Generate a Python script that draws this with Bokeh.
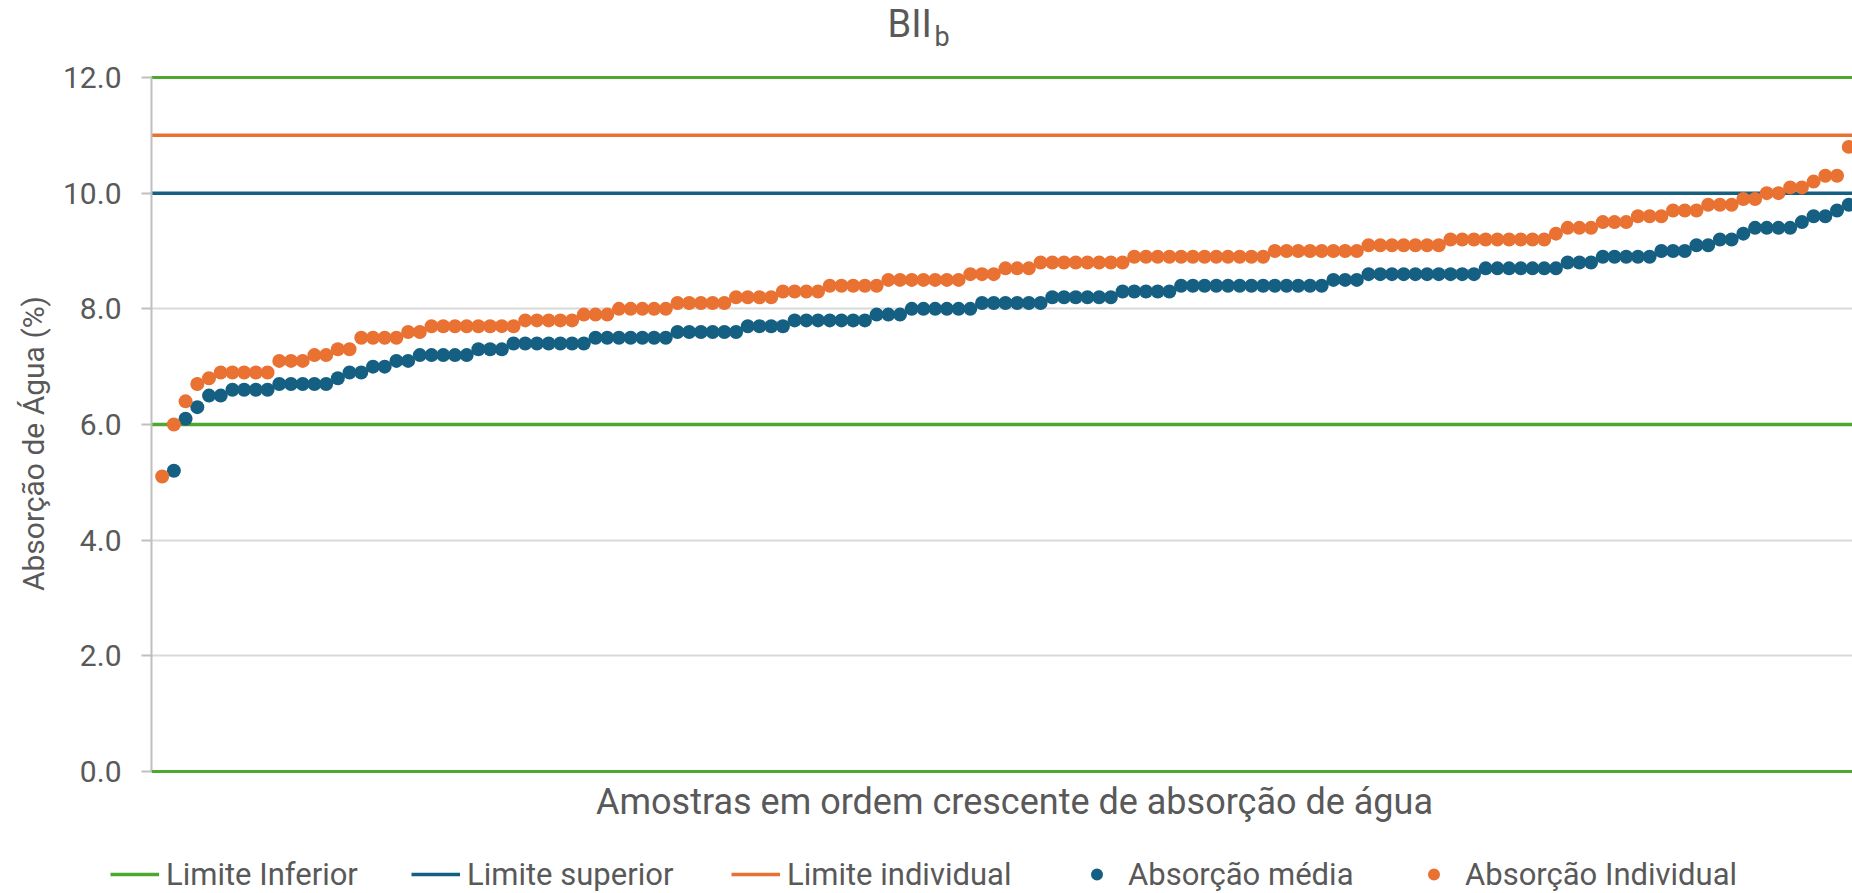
import math
from bokeh.plotting import figure
from bokeh.layouts import column, row
from bokeh.models import Range1d, FixedTicker, PrintfTickFormatter, LinearAxis, Label, Legend, LegendItem, Span
from bokeh.embed import file_html
from bokeh.resources import INLINE

# ---------------- data ----------------
titulo = "BII"
titulo_sub = "b"
eixo_y_titulo = "Absorção de Água (%)"
eixo_x_titulo = "Amostras em ordem crescente de absorção de água"
y_ticks = [0, 2, 4, 6, 8, 10, 12]

limite_inferior = 6.0
limite_superior = 10.0
limite_individual = 11.0

absorcao_individual = [
    5.1, 6.0, 6.4, 6.7, 6.8, 6.9, 6.9, 6.9, 6.9, 6.9,
    7.1, 7.1, 7.1, 7.2, 7.2, 7.3, 7.3, 7.5, 7.5, 7.5,
    7.5, 7.6, 7.6, 7.7, 7.7, 7.7, 7.7, 7.7, 7.7, 7.7,
    7.7, 7.8, 7.8, 7.8, 7.8, 7.8, 7.9, 7.9, 7.9, 8.0,
    8.0, 8.0, 8.0, 8.0, 8.1, 8.1, 8.1, 8.1, 8.1, 8.2,
    8.2, 8.2, 8.2, 8.3, 8.3, 8.3, 8.3, 8.4, 8.4, 8.4,
    8.4, 8.4, 8.5, 8.5, 8.5, 8.5, 8.5, 8.5, 8.5, 8.6,
    8.6, 8.6, 8.7, 8.7, 8.7, 8.8, 8.8, 8.8, 8.8, 8.8,
    8.8, 8.8, 8.8, 8.9, 8.9, 8.9, 8.9, 8.9, 8.9, 8.9,
    8.9, 8.9, 8.9, 8.9, 8.9, 9.0, 9.0, 9.0, 9.0, 9.0,
    9.0, 9.0, 9.0, 9.1, 9.1, 9.1, 9.1, 9.1, 9.1, 9.1,
    9.2, 9.2, 9.2, 9.2, 9.2, 9.2, 9.2, 9.2, 9.2, 9.3,
    9.4, 9.4, 9.4, 9.5, 9.5, 9.5, 9.6, 9.6, 9.6, 9.7,
    9.7, 9.7, 9.8, 9.8, 9.8, 9.9, 9.9, 10.0, 10.0, 10.1,
    10.1, 10.2, 10.3, 10.3, 10.8,
]

absorcao_media = [
    5.2, 6.1, 6.3, 6.5, 6.5, 6.6, 6.6, 6.6, 6.6, 6.7,
    6.7, 6.7, 6.7, 6.7, 6.8, 6.9, 6.9, 7.0, 7.0, 7.1,
    7.1, 7.2, 7.2, 7.2, 7.2, 7.2, 7.3, 7.3, 7.3, 7.4,
    7.4, 7.4, 7.4, 7.4, 7.4, 7.4, 7.5, 7.5, 7.5, 7.5,
    7.5, 7.5, 7.5, 7.6, 7.6, 7.6, 7.6, 7.6, 7.6, 7.7,
    7.7, 7.7, 7.7, 7.8, 7.8, 7.8, 7.8, 7.8, 7.8, 7.8,
    7.9, 7.9, 7.9, 8.0, 8.0, 8.0, 8.0, 8.0, 8.0, 8.1,
    8.1, 8.1, 8.1, 8.1, 8.1, 8.2, 8.2, 8.2, 8.2, 8.2,
    8.2, 8.3, 8.3, 8.3, 8.3, 8.3, 8.4, 8.4, 8.4, 8.4,
    8.4, 8.4, 8.4, 8.4, 8.4, 8.4, 8.4, 8.4, 8.4, 8.5,
    8.5, 8.5, 8.6, 8.6, 8.6, 8.6, 8.6, 8.6, 8.6, 8.6,
    8.6, 8.6, 8.7, 8.7, 8.7, 8.7, 8.7, 8.7, 8.7, 8.8,
    8.8, 8.8, 8.9, 8.9, 8.9, 8.9, 8.9, 9.0, 9.0, 9.0,
    9.1, 9.1, 9.2, 9.2, 9.3, 9.4, 9.4, 9.4, 9.4, 9.5,
    9.6, 9.6, 9.7, 9.8,
]

# sample ranks (the "média" series starts at the second sample)
amostra_individual = list(range(1, len(absorcao_individual) + 1))
amostra_media = list(range(2, len(absorcao_media) + 2))

# ---------------- style ----------------
VERDE = "#4EA72E"
AZUL = "#156082"
LARANJA = "#E97132"
TEXTO = "#595959"
GRADE = "#D9D9D9"
EIXO = "#BFBFBF"
FONTE = "Roboto"

W, H = 1852, 893
TOP_H = 61                 # title row: page y 0-61
MAIN_Y1 = 825              # main row: page y 61-825
BOT_H = H - MAIN_Y1        # legend row: page y 825-893
LEFT_W = 56                # y-title column width
FRAME_L, FRAME_T = 151, 77
Y0_PX = 771                # page y of value 0
X0, X1 = 0.09, 145.32
Y0, Y1 = 0, 12
MAIN_H = MAIN_Y1 - TOP_H
PX_PER_Y = (Y0_PX - FRAME_T) / (Y1 - Y0)
PX_PER_X = (W - FRAME_L) / (X1 - X0)
Y_BOTTOM = Y0 - (MAIN_Y1 - Y0_PX) / PX_PER_Y    # frame runs on below 0 to hold the x title


def strip(width, height):
    """Blank canvas with a full-size frame; data units = pixels from its bottom-left."""
    f = figure(width=width, height=height, output_backend="svg", toolbar_location=None,
               x_range=Range1d(0, width), y_range=Range1d(0, height),
               x_axis_type=None, y_axis_type=None,
               min_border_left=0, min_border_right=0, min_border_top=0, min_border_bottom=0)
    f.frame_align = False
    f.outline_line_color = None
    f.background_fill_color = "white"
    f.border_fill_color = "white"
    return f


# ---------------- title row ----------------
p_top = strip(W, TOP_H)
p_top.add_layout(Label(x=887, y=TOP_H - 23.5, text=titulo, text_font=FONTE, text_font_size="38px",
                       text_color=TEXTO, text_align="left", text_baseline="middle"))
p_top.add_layout(Label(x=934, y=TOP_H - 36, text=titulo_sub, text_font=FONTE, text_font_size="27px",
                       text_color=TEXTO, text_align="left", text_baseline="middle"))

# ---------------- y-title column ----------------
p_left = strip(LEFT_W, MAIN_H)
p_left.add_layout(Label(x=33, y=MAIN_Y1 - 443, text=eixo_y_titulo, text_font=FONTE,
                        text_font_size="30px", text_color=TEXTO, text_align="center",
                        text_baseline="middle", angle=math.pi / 2))

# ---------------- main plot ----------------
p = figure(width=W - LEFT_W, height=MAIN_H, output_backend="svg", toolbar_location=None,
           x_range=Range1d(X0, X1), y_range=Range1d(Y_BOTTOM, Y1),
           min_border_left=FRAME_L - LEFT_W, min_border_right=0,
           min_border_top=FRAME_T - TOP_H, min_border_bottom=0)
p.frame_align = False
p.outline_line_color = None
p.background_fill_color = "white"
p.border_fill_color = "white"
p.xgrid.visible = False
p.xaxis.visible = False

# top edge: green line
ax_top = LinearAxis(ticker=FixedTicker(ticks=[]), major_tick_out=0, major_tick_in=0,
                    minor_tick_line_color=None, major_label_text_font_size="0px",
                    major_label_standoff=0, axis_line_color=VERDE, axis_line_width=3)
p.add_layout(ax_top, "above")
# bottom edge (value 0): green line
p.add_layout(Span(location=Y0, dimension="width", line_color=VERDE, line_width=3))

p.yaxis.bounds = (Y0, Y1)
p.yaxis.ticker = FixedTicker(ticks=y_ticks)
p.yaxis.formatter = PrintfTickFormatter(format="%.1f")
p.yaxis.minor_tick_line_color = None
p.yaxis.major_tick_out = 10
p.yaxis.major_tick_in = 0
p.yaxis.major_tick_line_color = EIXO
p.yaxis.major_tick_line_width = 2
p.yaxis.axis_line_color = EIXO
p.yaxis.axis_line_width = 2
p.yaxis.major_label_standoff = 20
p.yaxis.major_label_text_font = FONTE
p.yaxis.major_label_text_font_size = "30px"
p.yaxis.major_label_text_color = TEXTO

p.ygrid.ticker = FixedTicker(ticks=y_ticks)
p.ygrid.grid_line_color = GRADE
p.ygrid.grid_line_width = 2

xs_lim = [X0, X1]
p.line(xs_lim, [limite_inferior, limite_inferior], line_color=VERDE, line_width=3.5)
p.line(xs_lim, [limite_superior, limite_superior], line_color=AZUL, line_width=3.5)
p.line(xs_lim, [limite_individual, limite_individual], line_color=LARANJA, line_width=3.5)

p.scatter(amostra_media, absorcao_media, size=14, fill_color=AZUL, line_color=None)
p.scatter(amostra_individual, absorcao_individual, size=14, fill_color=LARANJA, line_color=None)

# x title, placed under the value axis
p.add_layout(Label(x=X0 + (1014 - FRAME_L) / PX_PER_X, y=Y0 - (801 - Y0_PX) / PX_PER_Y,
                   text=eixo_x_titulo, text_font=FONTE, text_font_size="36px", text_color=TEXTO,
                   text_align="center", text_baseline="middle"))

# ---------------- legend row ----------------
p_bot = strip(W, BOT_H)
nan = float("nan")
g_inf = p_bot.line([nan, nan], [nan, nan], line_color=VERDE, line_width=3.5)
g_sup = p_bot.line([nan, nan], [nan, nan], line_color=AZUL, line_width=3.5)
g_lim = p_bot.line([nan, nan], [nan, nan], line_color=LARANJA, line_width=3.5)
g_med = p_bot.scatter([nan], [nan], size=14, fill_color=AZUL, line_color=None)
g_ind = p_bot.scatter([nan], [nan], size=14, fill_color=LARANJA, line_color=None)

LEG_H = 38
LEG_CY = 874
entradas = [
    ("Limite Inferior", g_inf, 110),
    ("Limite superior", g_sup, 411),
    ("Limite individual", g_lim, 731),
    ("Absorção média", g_med, 1072),
    ("Absorção Individual", g_ind, 1409),
]
for rotulo, rend, px in entradas:
    lg = Legend(items=[LegendItem(label=rotulo, renderers=[rend])],
                location=(px, H - LEG_CY - LEG_H // 2), orientation="horizontal",
                glyph_width=49, glyph_height=30, label_height=LEG_H, label_standoff=7,
                padding=0, margin=0, spacing=0,
                background_fill_alpha=0, border_line_alpha=0,
                label_text_font=FONTE, label_text_font_size="31px", label_text_color=TEXTO)
    p_bot.add_layout(lg, "center")

layout = column(p_top, row(p_left, p, spacing=0), p_bot, spacing=0)
open("out.html", "w").write(file_html(layout, INLINE))
